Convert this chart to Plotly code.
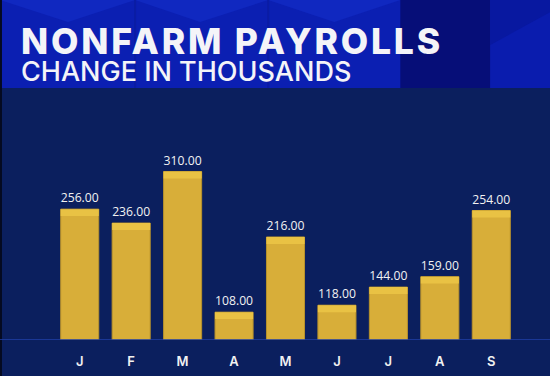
import plotly.graph_objects as go

months = ["J", "F", "M", "A", "M ", "J ", "J  ", "A ", "S"]
tick_labels = ["J", "F", "M", "A", "M", "J", "J", "A", "S"]
payrolls = [256, 236, 310, 108, 216, 118, 144, 159, 254]

title = "NONFARM PAYROLLS"
subtitle = "CHANGE IN THOUSANDS"

Y_MIN = 68
Y_MAX = 412.8
STRIPE = 10  # height of lighter top band in data units

W, H = 550, 376
L, R, T, B = 54, 33.4, 100, 36
PW, PH = W - L - R, H - T - B


def px(xp):
    return (xp - L) / PW


def py(yp):
    return (H - B - yp) / PH


BODY = "#0b1f5e"
fig = go.Figure()

fig.add_trace(go.Bar(
    x=months, y=[v - Y_MIN for v in payrolls], base=Y_MIN,
    marker=dict(color="#d8ae39", line=dict(width=1, color="#b8922c")),
    hoverinfo="skip", showlegend=False,
))
fig.add_trace(go.Bar(
    x=months, y=[STRIPE for v in payrolls], base=[v - STRIPE for v in payrolls],
    marker=dict(color="#e9c244", line=dict(width=0)),
    text=[f"{v:.2f}" for v in payrolls], textposition="outside",
    textfont=dict(family="Open Sans", size=13, color="#f2f2f2"),
    cliponaxis=False, hoverinfo="skip", showlegend=False,
))

shapes = []
# header background
shapes.append(dict(type="rect", xref="paper", yref="paper", x0=px(0), x1=px(W), y0=py(88), y1=py(0),
                   fillcolor="#0b1fb2", line=dict(width=0), layer="below"))
# facets
facets = [
    [(0, 0), (135, 0), (68, 22)],
    [(135, 0), (268, 0), (200, 22)],
    [(268, 0), (400, 0), (334, 22)],
]
for pts in facets:
    path = "M " + " L ".join(f"{px(a)},{py(b)}" for a, b in pts) + " Z"
    shapes.append(dict(type="path", xref="paper", yref="paper", path=path,
                       fillcolor="#1028c0", line=dict(width=0), layer="below"))
for xs in (135, 268):
    shapes.append(dict(type="line", xref="paper", yref="paper", x0=px(xs), x1=px(xs), y0=py(88), y1=py(0),
                       line=dict(color="#0a1ca4", width=2), layer="below"))
# dark band on right
shapes.append(dict(type="rect", xref="paper", yref="paper", x0=px(400), x1=px(490), y0=py(88), y1=py(0),
                   fillcolor="#060e78", line=dict(width=0), layer="below"))
path = "M " + " L ".join(f"{px(a)},{py(b)}" for a, b in [(490, 45), (550, 12), (550, 88), (490, 88)]) + " Z"
shapes.append(dict(type="rect", xref="paper", yref="paper", x0=px(490), x1=px(W), y0=py(88), y1=py(0),
                   fillcolor="#0818a0", line=dict(width=0), layer="below"))
shapes.append(dict(type="path", xref="paper", yref="paper", path=path,
                   fillcolor="#0a1cae", line=dict(width=0), layer="below"))
# left dark edge
shapes.append(dict(type="rect", xref="paper", yref="paper", x0=px(0), x1=px(2), y0=py(H), y1=py(0),
                   fillcolor="#050a20", line=dict(width=0), layer="below"))
# baseline
shapes.append(dict(type="line", xref="paper", yref="y", x0=px(0), x1=px(W), y0=Y_MIN, y1=Y_MIN,
                   line=dict(color="#2040a8", width=1.5), layer="above"))

header_text = (f"<span style='font-size:35.5px;font-weight:800;letter-spacing:2.8px'>{title}</span><br>"
               f"<span style='font-size:27px;font-weight:500'>{subtitle}</span>")
annotations = [
    dict(text=header_text, xref="paper", yref="paper", x=px(20), y=py(89), xanchor="left", yanchor="bottom",
         align="left", showarrow=False, borderpad=0,
         font=dict(family="Inter", size=20.8, color="#f4f4f8")),
]

fig.update_layout(
    width=W, height=H,
    margin=dict(l=L, r=R, t=T, b=B),
    paper_bgcolor=BODY, plot_bgcolor=BODY,
    barmode="overlay", bargap=0.26,
    shapes=shapes, annotations=annotations,
    xaxis=dict(tickvals=months, ticktext=tick_labels, showgrid=False, zeroline=False, showline=False,
               ticks="", tickfont=dict(family="Inter", size=13, weight=600, color="#f2f2f2"),
               ticklabelstandoff=12, automargin=False, fixedrange=True),
    yaxis=dict(range=[Y_MIN, Y_MAX], visible=False, showgrid=False, fixedrange=True, automargin=False),
)

fig.write_html("out.html", config={"displayModeBar": False},
               post_script="document.body.style.margin='0';document.body.style.background='#0b1f5e';")
